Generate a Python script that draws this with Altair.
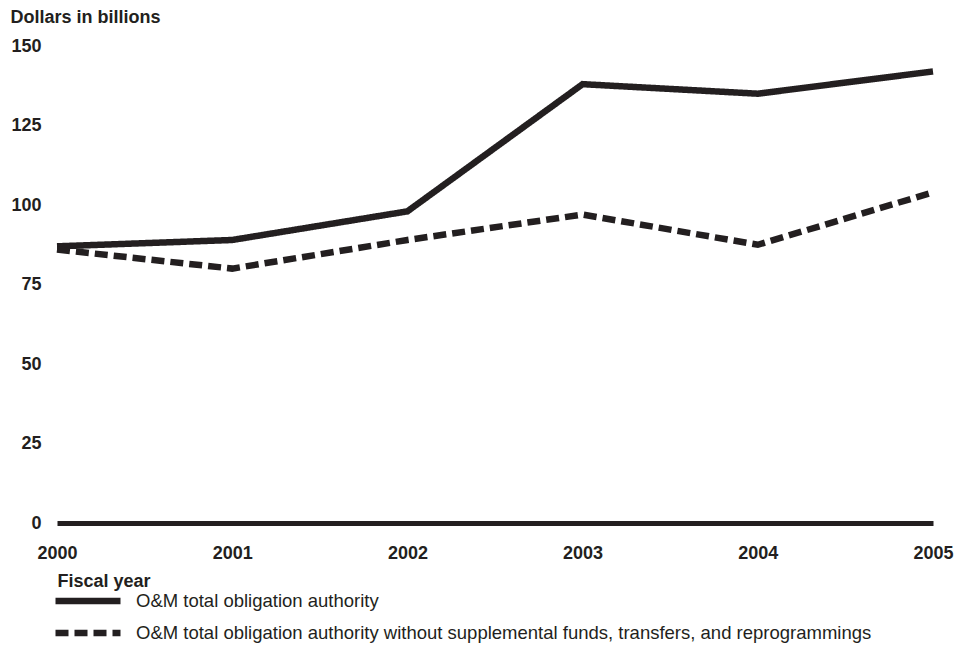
import altair as alt
import pandas as pd

years = [2000, 2001, 2002, 2003, 2004, 2005]
total = [87, 89, 98, 138, 135, 142]
without_supp = [86, 80, 89, 97, 87.5, 104]
s1 = "O&M total obligation authority"
s2 = "O&M total obligation authority without supplemental funds, transfers, and reprogrammings"

rows = []
for y, a, b in zip(years, total, without_supp):
    rows.append({"year": y, "value": a, "series": s1})
    rows.append({"year": y, "value": b, "series": s2})
df = pd.DataFrame(rows)

INK = "#231f20"
FONT = "Liberation Sans"

chart = alt.Chart(df).mark_line(strokeWidth=6.5, color=INK).encode(
    x=alt.X("year:Q", scale=alt.Scale(domain=[2000, 2005], nice=False, zero=False),
            axis=alt.Axis(values=years, format="d", title="Fiscal year", ticks=False, grid=False,
                          domain=True, domainWidth=5, domainColor=INK,
                          labelFont=FONT, labelFontSize=18, labelFontWeight="bold", labelColor=INK,
                          labelPadding=21, labelFlush=False,
                          titleFont=FONT, titleFontSize=18, titleFontWeight="bold", titleColor=INK,
                          titleAnchor="start", titleAlign="left", titleX=0, titleY=63,
                          titleBaseline="alphabetic")),
    y=alt.Y("value:Q", scale=alt.Scale(domain=[0, 150], nice=False),
            axis=alt.Axis(values=[0, 25, 50, 75, 100, 125, 150], title="Dollars in billions",
                          ticks=False, grid=False, domain=False,
                          labelFont=FONT, labelFontSize=18, labelFontWeight="bold", labelColor=INK,
                          labelPadding=16,
                          titleFont=FONT, titleFontSize=18, titleFontWeight="bold", titleColor=INK,
                          titleAngle=0, titleAlign="left", titleX=-47, titleY=-24,
                          titleBaseline="alphabetic")),
    strokeDash=alt.StrokeDash("series:N",
                              scale=alt.Scale(domain=[s1, s2], range=[[1, 0], [13, 6]]),
                              legend=alt.Legend(title=None, orient="none", legendX=21, legendY=545,
                                                symbolType="M-5,0H5", symbolSize=169,
                                                symbolStrokeWidth=6.5, symbolStrokeColor=INK,
                                                symbolFillColor="transparent",
                                                labelFont=FONT, labelFontSize=18.5, labelColor=INK,
                                                labelOffset=38, labelLimit=900, padding=0,
                                                rowPadding=6)),
).properties(
    width=876, height=477,
    padding={"left": 49, "top": 38, "right": 31, "bottom": 140},
    autosize=alt.AutoSizeParams(type="none"),
).configure_view(stroke=None)

chart.save("out.html", embed_options={"renderer": "svg", "actions": False})
